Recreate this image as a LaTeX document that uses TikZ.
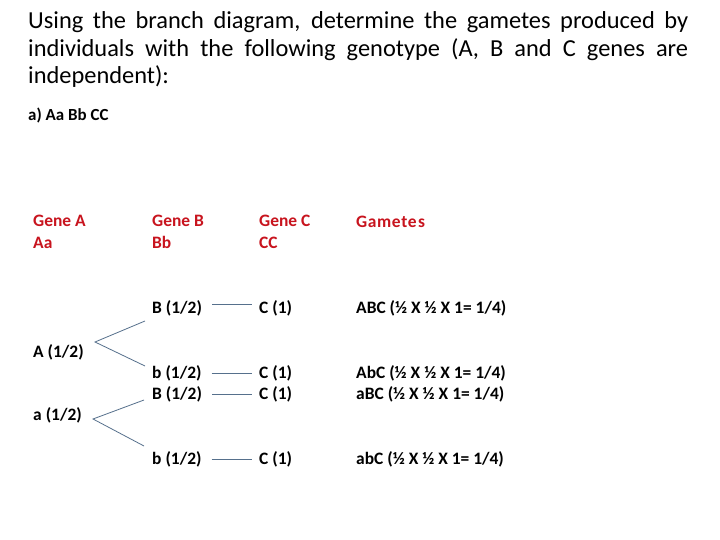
\documentclass[tikz,border=0pt]{standalone}
\usepackage{fontspec}
\setmainfont{Carlito}
\usepackage{xcolor}
\usepackage{tikz}
\usetikzlibrary{positioning,calc}
\definecolor{gred}{HTML}{C8141E}
\definecolor{gline}{HTML}{56708C}
\tikzset{
  gtitle/.style={anchor=north west, inner sep=0pt, text width=660bp, align=justify,
                 font=\fontsize{24.5}{28}\selectfont},
  gpart/.style={anchor=west, inner sep=0pt, font=\fontsize{17}{20}\selectfont\bfseries},
  ghead/.style={anchor=west, inner sep=0pt, align=left, text=gred,
                font=\fontsize{17.5}{21.5}\selectfont\bfseries},
  glbl/.style={anchor=west, inner sep=0pt, font=\fontsize{17.5}{21}\selectfont\bfseries},
  gbranch/.style={gline, line width=0.8pt},
}

\begin{document}
\begin{tikzpicture}[x=1bp,y=-1bp]
  \useasboundingbox[fill=white] (0,0) rectangle (720,540);

  % question
  \node[gtitle] (title) at (28,11) {Using the branch diagram, determine the gametes produced by\linebreak
    individuals with the following genotype (A, B and C genes are\linebreak
    independent):};
  \node[gpart] (part) at (28,115) {a) Aa Bb CC};

  % column heads
  \node[ghead] (hA) at (33,232) {Gene A\\Aa};
  \node[ghead] (hB) at (152,232) {Gene B\\Bb};
  \node[ghead] (hC) at (259,232) {Gene C\\CC};
  \node[ghead] (hG) at (356,221.5) {G\kern.6pt a\kern.6pt m\kern.6pt e\kern.6pt t\kern.6pt e\kern1.5pt s};

  % gene A
  \node[glbl] (A) at (33,352) {A (1/2)};
  \node[glbl] (a) at (33,415) {a (1/2)};

  % gene B
  \node[glbl] (B1) at (152,308) {B (1/2)};
  \node[glbl] (b1) at (152,373) {b (1/2)};
  \node[glbl] (B2) at (152,394) {B (1/2)};
  \node[glbl] (b2) at (152,459) {b (1/2)};

  % gene C
  \node[glbl] (C1) at (259,308) {C (1)};
  \node[glbl] (C2) at (259,373) {C (1)};
  \node[glbl] (C3) at (259,394) {C (1)};
  \node[glbl] (C4) at (259,459) {C (1)};

  % gametes
  \node[glbl] (g1) at (356,308) {ABC (½ X ½ X 1= 1/4)};
  \node[glbl] (g2) at (356,373) {AbC (½ X ½ X 1= 1/4)};
  \node[glbl] (g3) at (356,394) {aBC (½ X ½ X 1= 1/4)};
  \node[glbl] (g4) at (356,459) {abC (½ X ½ X 1= 1/4)};

  % branches
  \coordinate (forkA) at (95,342);
  \coordinate (forka) at (93,419);
  \coordinate (tipB1) at (145,321);
  \coordinate (tipb1) at (145,366);
  \coordinate (tipB2) at (144,400);
  \coordinate (tipb2) at (144,446);
  \draw[gbranch] (tipB1) -- (forkA) -- (tipb1);
  \draw[gbranch] (tipB2) -- (forka) -- (tipb2);

  \draw[gbranch] ([xshift=10bp]B1.east |- 0,304) -- ([xshift=-7bp]C1.west |- 0,304);
  \draw[gbranch] ([xshift=10bp]b1.east) -- ([xshift=-7bp]C2.west);
  \draw[gbranch] ([xshift=10bp]B2.east) -- ([xshift=-7bp]C3.west);
  \draw[gbranch] ([xshift=10bp]b2.east) -- ([xshift=-7bp]C4.west);
\end{tikzpicture}
\end{document}
